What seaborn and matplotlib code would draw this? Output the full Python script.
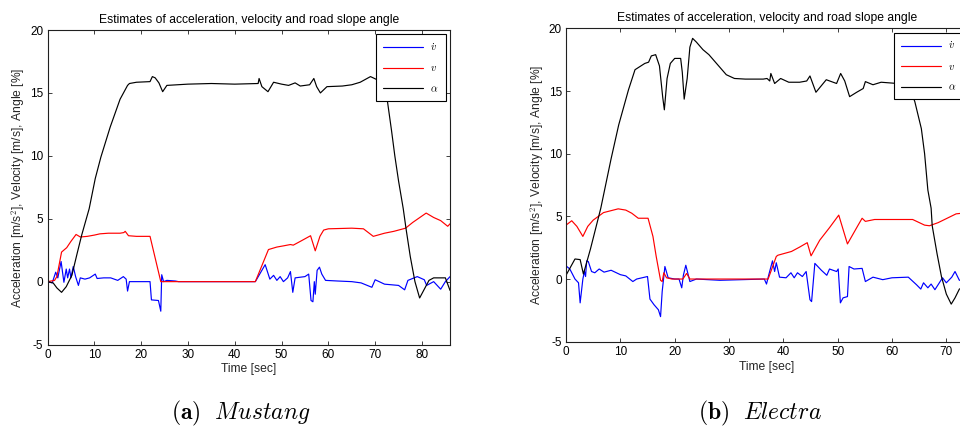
import matplotlib
matplotlib.use("Agg")
import matplotlib.pyplot as plt
import pandas as pd
import seaborn as sns

TITLE = "Estimates of acceleration, velocity and road slope angle"
XLABEL = "Time [sec]"
YLABEL = "Acceleration [m/s$^2$], Velocity [m/s], Angle [%]"
SERIES = ["acceleration", "velocity", "angle"]
LEGEND_LABELS = [r"$\dot{v}$", r"$v$", r"$\alpha$"]
COLORS = ["#0000ff", "#ff0000", "#000000"]
X_TICKS = [0, 10, 20, 30, 40, 50, 60, 70, 80]
Y_TICKS = [-5, 0, 5, 10, 15, 20]
CAPTIONS = [r"$\mathbf{(a)}\ \ \mathit{Mustang}$", r"$\mathbf{(b)}\ \ \mathit{Electra}$"]

# ---- Mustang (time [s], value) ----
mustang_acc = [(0, 0), (1.0, -0.1), (1.75, 0.75), (2.2, 0.3), (2.9, 1.6), (3.5, -0.05), (4.0, 1.0),
               (4.3, 0.3), (4.7, 1.0), (5.0, 0.3), (5.5, 1.2), (6.0, 0.4), (6.6, -0.3), (7.0, 0.3),
               (8.0, 0.2), (9.0, 0.3), (10.2, 0.6), (10.6, 0.25), (12.0, 0.3), (13.5, 0.3), (15.0, 0.1),
               (16.2, 0.4), (16.8, 0.2), (17.1, -0.75), (17.5, 0.0), (19.0, 0.0), (21.9, 0.0),
               (22.2, -1.45), (23.7, -1.5), (24.2, -2.35), (24.4, 0.55), (24.8, 0.0), (25.5, 0.1),
               (27.3, 0.05), (28.0, 0.0), (44.4, 0.0), (46.5, 1.35), (47.5, 0.2), (48.3, 0.5),
               (49.0, 0.1), (49.7, 0.4), (50.4, 0.0), (51.3, 0.3), (51.9, 0.8), (52.4, -0.85),
               (52.9, 0.3), (55.0, 0.4), (55.8, 0.6), (56.3, -1.5), (56.7, -1.6), (57.0, 0.0),
               (57.2, -1.0), (57.6, 0.9), (58.1, 1.15), (58.6, 0.6), (59.4, 0.1), (62.0, 0.05),
               (65.0, 0.0), (67.0, -0.1), (69.3, -0.45), (70.0, 0.15), (72.0, -0.2), (75.0, -0.3),
               (76.3, -0.65), (77.0, 0.1), (79.0, 0.4), (80.5, 0.15), (81.0, -0.3), (82.5, 0.0),
               (84.0, -0.6), (85.0, 0.0), (86.0, 0.4)]
mustang_vel = [(0, 0), (1.5, 0.1), (2.0, 0.4), (3.0, 2.35), (4.1, 2.7), (5.0, 3.2), (6.1, 3.75),
               (7.0, 3.55), (8.5, 3.6), (10.0, 3.7), (11.2, 3.8), (13.0, 3.85), (15.5, 3.85),
               (16.3, 3.9), (16.6, 4.0), (17.3, 3.65), (19.0, 3.6), (21.9, 3.6), (24.2, 0.0),
               (44.4, 0.0), (45.5, 1.0), (47.2, 2.55), (49.0, 2.75), (50.5, 2.85), (51.9, 2.95),
               (52.5, 2.9), (54.0, 3.2), (56.2, 3.65), (57.2, 2.45), (58.2, 3.6), (59.0, 4.1),
               (60.0, 4.2), (65.0, 4.25), (67.5, 4.2), (69.6, 3.6), (72.0, 3.85), (74.0, 4.0),
               (76.5, 4.25), (78.0, 4.7), (80.9, 5.45), (82.5, 5.1), (84.0, 4.85), (85.5, 4.4),
               (86.0, 4.6)]
mustang_ang = [(0, 0), (1.2, -0.1), (2.0, -0.5), (3.0, -0.85), (4.0, -0.4), (5.2, 0.5), (6.3, 2.2),
               (7.3, 3.7), (8.9, 5.8), (10.2, 8.2), (11.4, 9.9), (13.4, 12.3), (15.5, 14.5),
               (17.1, 15.6), (17.5, 15.75), (19.0, 15.85), (21.9, 15.9), (22.4, 16.3), (23.0, 16.2),
               (23.8, 15.8), (24.6, 15.1), (25.5, 15.6), (30.0, 15.7), (35.0, 15.75), (40.0, 15.7),
               (45.0, 15.75), (45.2, 16.15), (45.8, 15.5), (47.1, 15.1), (48.3, 15.85), (50.0, 15.7),
               (51.5, 15.6), (52.9, 15.8), (54.0, 15.55), (56.0, 15.65), (56.9, 16.15), (57.5, 15.5),
               (58.3, 15.0), (59.7, 15.5), (63.0, 15.55), (65.0, 15.65), (66.8, 15.85), (69.0, 16.3),
               (70.7, 16.0), (71.8, 15.5), (72.6, 14.4), (73.5, 12.0), (74.2, 10.0), (75.0, 8.0),
               (76.0, 5.8), (76.6, 4.2), (77.5, 2.0), (78.5, 0.0), (79.5, -1.3), (80.5, -0.6),
               (81.5, 0.1), (82.5, 0.3), (85.0, 0.3), (86.0, -0.7)]

# ---- Electra (time [s], value) ----
electra_acc = [(0, 1.05), (0.7, 0.8), (1.65, 0.0), (2.3, -0.3), (2.6, -1.9), (3.1, 0.0), (3.4, 0.6),
               (3.6, 0.2), (3.8, 1.45), (4.1, 1.4), (4.7, 0.6), (5.3, 0.5), (6.1, 0.8), (7.0, 0.55),
               (8.3, 0.7), (10.0, 0.35), (11.0, 0.25), (12.3, -0.2), (13.0, 0.0), (15.0, 0.2),
               (15.45, -1.6), (16.2, -2.05), (17.0, -2.45), (17.4, -3.0), (17.7, -1.0), (18.2, 1.0),
               (18.8, 0.1), (20.0, 0.0), (20.8, 0.0), (21.3, -0.7), (21.6, 0.3), (22.05, 1.1),
               (22.8, -0.2), (24.0, 0.0), (28.3, -0.1), (36.5, 0.0), (36.9, -0.4), (37.3, 0.3),
               (38.0, 1.45), (38.4, 0.6), (38.7, 1.3), (39.3, 0.15), (40.5, 0.1), (41.4, 0.5),
               (42.0, 0.1), (42.6, 0.5), (43.5, 0.2), (44.2, 0.6), (44.9, -1.65), (45.2, -1.8),
               (45.8, 1.25), (47.0, 0.7), (48.0, 0.3), (48.5, 0.8), (49.8, 0.6), (50.1, 0.8),
               (50.5, -1.9), (51.0, -1.5), (51.8, -1.4), (52.1, 1.0), (53.0, 0.8), (54.5, 0.85),
               (55.1, -0.2), (56.5, 0.15), (58.3, -0.05), (60.0, 0.1), (63.0, 0.15), (64.5, -0.45),
               (65.3, -0.8), (65.8, -0.3), (66.6, -0.7), (67.2, -0.4), (67.9, -0.85), (69.3, 0.1),
               (70.0, -0.3), (71.0, 0.15), (71.6, 0.6), (72.4, -0.1), (74.0, -0.1)]
electra_vel = [(0, 4.3), (1.05, 4.65), (2.0, 4.2), (3.1, 3.4), (4.0, 4.2), (5.0, 4.7), (6.9, 5.3),
               (9.6, 5.6), (11.0, 5.5), (12.1, 5.25), (13.3, 4.85), (15.1, 4.85), (16.0, 3.4),
               (16.6, 1.8), (17.4, -0.1), (17.7, -0.2), (18.0, 0.5), (18.5, 0.1), (19.5, 0.0),
               (21.5, 0.0), (22.2, 0.45), (22.8, 0.0), (37.2, 0.0), (38.7, 1.8), (39.0, 1.9),
               (41.5, 2.2), (43.0, 2.55), (44.4, 2.9), (45.1, 1.85), (46.7, 3.1), (48.5, 4.1),
               (50.2, 5.1), (51.8, 2.8), (53.7, 4.25), (54.5, 4.85), (55.1, 4.6), (56.8, 4.75),
               (63.8, 4.75), (66.0, 4.3), (66.9, 4.25), (68.5, 4.5), (71.8, 5.2), (74.0, 5.3)]
electra_ang = [(0, 0.3), (1.65, 1.6), (2.6, 1.55), (3.2, 0.4), (4.5, 2.4), (6.4, 5.65), (8.3, 9.6),
               (9.7, 12.3), (11.5, 15.1), (12.7, 16.7), (14.5, 17.2), (15.2, 17.3),
               (15.7, 17.8), (16.5, 17.9), (17.2, 17.0), (17.8, 14.5), (18.1, 13.5), (18.6, 16.0),
               (19.2, 17.2), (20.0, 17.6), (21.1, 17.6), (21.4, 16.5), (21.75, 14.35), (22.3, 16.0),
               (22.8, 18.5), (23.3, 19.2), (24.0, 18.9), (25.2, 18.3), (26.3, 17.9), (27.4, 17.35),
               (28.5, 16.8), (29.5, 16.3), (31.0, 16.0), (33.0, 15.95), (36.3, 15.95), (37.0, 16.0),
               (37.5, 15.8), (37.7, 16.4), (38.4, 15.6), (39.5, 16.0), (41.0, 15.7), (43.0, 15.7),
               (44.3, 15.8), (44.9, 16.2), (46.0, 14.9), (47.9, 15.9), (49.8, 15.6), (50.55, 16.4),
               (51.3, 15.8), (52.2, 14.55), (53.5, 14.9), (54.7, 15.2), (55.1, 15.75), (56.5, 15.5),
               (58.0, 15.7), (61.0, 15.6), (62.5, 15.6), (63.5, 15.0), (64.2, 14.15), (65.4, 12.0),
               (66.0, 10.0), (66.6, 7.1), (67.2, 5.65), (67.4, 4.25), (68.3, 2.0), (69.1, 0.2),
               (70.0, -1.2), (70.9, -2.0), (71.6, -1.5), (72.4, -0.8), (74.0, -0.5)]

XLIM_A = (0, 86)
XLIM_B = (0, 74)
YLIM = (-5, 20)


def long_frame(acc, vel, ang):
    rows = []
    for name, pairs in zip(SERIES, (acc, vel, ang)):
        for t, v in pairs:
            rows.append({"time": t, "value": v, "series": name})
    return pd.DataFrame(rows)


sns.set_style("white")
plt.rcParams.update({
    "font.family": ["Liberation Sans", "DejaVu Sans"],
    "mathtext.fontset": "cm",
    "axes.unicode_minus": False,
    "xtick.direction": "in",
    "ytick.direction": "in",
    "xtick.top": True,
    "ytick.right": True,
    "xtick.bottom": True,
    "ytick.left": True,
    "xtick.major.size": 3.2,
    "ytick.major.size": 3.2,
    "xtick.major.width": 0.6,
    "ytick.major.width": 0.6,
    "xtick.major.pad": 3,
    "ytick.major.pad": 3,
    "axes.edgecolor": "#202020",
    "axes.linewidth": 0.8,
    "xtick.color": "#202020",
    "ytick.color": "#202020",
    "text.color": "black",
})

fig = plt.figure(figsize=(9.6, 4.28), dpi=100)
axA = fig.add_axes([0.0495, 0.195, 0.4193, 0.7348])
axB = fig.add_axes([0.5896, 0.2016, 0.4188, 0.7322])

panels = [
    (axA, long_frame(mustang_acc, mustang_vel, mustang_ang), XLIM_A),
    (axB, long_frame(electra_acc, electra_vel, electra_ang), XLIM_B),
]

for ax, df, xlim in panels:
    sns.lineplot(data=df, x="time", y="value", hue="series", hue_order=SERIES,
                 palette=COLORS, estimator=None, linewidth=0.85, legend=False, ax=ax)
    ax.set_xlim(*xlim)
    ax.set_ylim(*YLIM)
    ax.set_xticks([t for t in X_TICKS if t <= xlim[1]])
    ax.set_yticks(Y_TICKS)
    ax.tick_params(labelsize=8.5, colors="#202020", labelcolor="black")
    ax.set_title(TITLE, fontsize=8.7, pad=5)
    ax.set_xlabel(XLABEL, fontsize=8.7, labelpad=2)
    ax.set_ylabel(YLABEL, fontsize=8.7, labelpad=2)
    for s in ax.spines.values():
        s.set_visible(True)
    leg = ax.legend(ax.lines[:3], LEGEND_LABELS, loc="upper right", fontsize=7.5,
                    handlelength=3.8, handletextpad=0.7, labelspacing=1.0,
                    borderpad=0.7, borderaxespad=0.4, fancybox=False, framealpha=1,
                    edgecolor="black")
    leg.get_frame().set_linewidth(0.8)

fig.text(0.2510, 1 - 413 / 428, CAPTIONS[0], fontsize=17, ha="center", va="center")
fig.text(0.7917, 1 - 413 / 428, CAPTIONS[1], fontsize=17, ha="center", va="center")

fig.savefig("out.png", dpi=100)
